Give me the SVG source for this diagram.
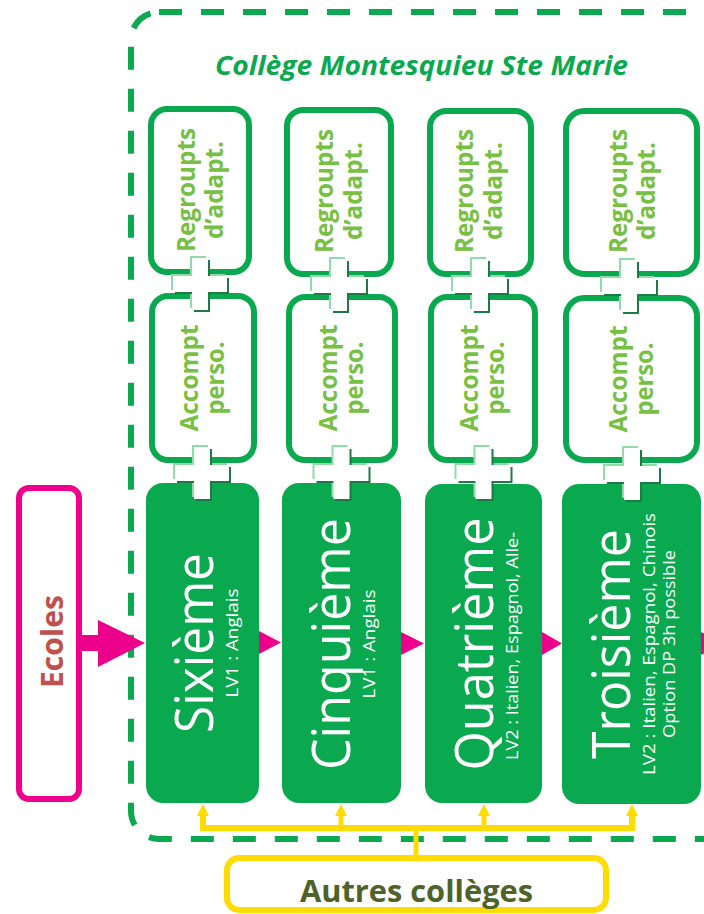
<svg xmlns="http://www.w3.org/2000/svg" xmlns:xlink="http://www.w3.org/1999/xlink" width="704" height="914" viewBox="0 0 704 914">
<style>
  .frame{fill:none;stroke:#0aa94f;stroke-width:6;stroke-dasharray:23 19}
  .title{font-family:"Open Sans","Liberation Sans",sans-serif;font-weight:700;font-style:italic;font-size:27px;fill:#0aa94f}
  .obox{fill:#fff;stroke:#0aa94f;stroke-width:6}
  .otxt{font-family:"Open Sans","Liberation Sans",sans-serif;font-weight:700;font-size:25px;fill:#78c043}
  .gbox{fill:#0aa94f}
  .big{font-family:"Open Sans","Liberation Sans",sans-serif;font-weight:400;font-size:53px;fill:#fff}
  .small{font-family:"Open Sans","Liberation Sans",sans-serif;font-weight:400;font-size:17px;fill:#fff}
  .ecbox{fill:#fff;stroke:#ec008c;stroke-width:6}
  .ectxt{font-family:"Open Sans","Liberation Sans",sans-serif;font-weight:700;font-size:31px;fill:#c0504d}
  .mag{fill:#ec008c}
  .ybox{fill:#fff;stroke:#ffdc00;stroke-width:6}
  .ytxt{font-family:"Open Sans","Liberation Sans",sans-serif;font-weight:700;font-size:30px;fill:#4f6228}
  .yl{fill:none;stroke:#ffdc00;stroke-width:6}
  .ys{fill:none;stroke:#ffdc00;stroke-width:5}
</style>
<defs>
  <path id="plus" d="M-8,-26 H8 V-8 H27 V8 H8 V26 H-8 V8 H-27 V-8 H-8 Z"/>
  <marker id="ya" viewBox="0 0 12 12" refX="0" refY="6" markerWidth="12" markerHeight="12" markerUnits="userSpaceOnUse" orient="auto-start-reverse">
    <path d="M0,0 L12,6 L0,12 Z" fill="#ffdc00"/>
  </marker>
</defs>

<g id="college-frame">
  <rect class="frame" x="131" y="12" width="599" height="827" rx="28"/>
  <text class="title" x="421.5" y="75" text-anchor="middle" textLength="413" lengthAdjust="spacingAndGlyphs">Collège Montesquieu Ste Marie</text>
</g>

<g id="ecoles">
  <rect class="ecbox" x="19" y="488" width="60" height="311" rx="10"/>
  <text class="ectxt" transform="translate(49,641.5) rotate(-90)" x="0" y="14" text-anchor="middle" textLength="93" lengthAdjust="spacingAndGlyphs">Ecoles</text>
</g>

<g id="regroupts-6">
  <rect class="obox" x="151" y="109" width="98" height="163" rx="16"/>
  <g transform="translate(200,190) rotate(-90)" text-anchor="middle">
    <text class="otxt" x="0" y="-5" textLength="124" lengthAdjust="spacingAndGlyphs">Regroupts</text>
    <text class="otxt" x="0" y="23" textLength="98" lengthAdjust="spacingAndGlyphs">d’adapt.</text>
  </g>
</g>
<g id="accompt-6">
  <rect class="obox" x="152" y="296" width="102" height="164" rx="16"/>
  <g transform="translate(203,378) rotate(-90)" text-anchor="middle">
    <text class="otxt" x="0" y="-5" textLength="107" lengthAdjust="spacingAndGlyphs">Accompt</text>
    <text class="otxt" x="0" y="21" textLength="73" lengthAdjust="spacingAndGlyphs">perso.</text>
  </g>
</g>
<g id="regroupts-5">
  <rect class="obox" x="287" y="110" width="104" height="164" rx="16"/>
  <g transform="translate(339,191) rotate(-90)" text-anchor="middle">
    <text class="otxt" x="0" y="-6" textLength="124" lengthAdjust="spacingAndGlyphs">Regroupts</text>
    <text class="otxt" x="0" y="23" textLength="98" lengthAdjust="spacingAndGlyphs">d’adapt.</text>
  </g>
</g>
<g id="accompt-5">
  <rect class="obox" x="289" y="297" width="106" height="163" rx="16"/>
  <g transform="translate(342,378) rotate(-90)" text-anchor="middle">
    <text class="otxt" x="0" y="-5" textLength="107" lengthAdjust="spacingAndGlyphs">Accompt</text>
    <text class="otxt" x="0" y="21" textLength="73" lengthAdjust="spacingAndGlyphs">perso.</text>
  </g>
</g>
<g id="regroupts-4">
  <rect class="obox" x="430" y="111" width="101" height="163" rx="16"/>
  <g transform="translate(480,191) rotate(-90)" text-anchor="middle">
    <text class="otxt" x="0" y="-7" textLength="124" lengthAdjust="spacingAndGlyphs">Regroupts</text>
    <text class="otxt" x="0" y="22" textLength="98" lengthAdjust="spacingAndGlyphs">d’adapt.</text>
  </g>
</g>
<g id="accompt-4">
  <rect class="obox" x="431" y="297" width="104" height="163" rx="16"/>
  <g transform="translate(483,378) rotate(-90)" text-anchor="middle">
    <text class="otxt" x="0" y="-5" textLength="107" lengthAdjust="spacingAndGlyphs">Accompt</text>
    <text class="otxt" x="0" y="21" textLength="73" lengthAdjust="spacingAndGlyphs">perso.</text>
  </g>
</g>
<g id="regroupts-3">
  <rect class="obox" x="566" y="111" width="131" height="163" rx="18"/>
  <g transform="translate(631,191) rotate(-90)" text-anchor="middle">
    <text class="otxt" x="0" y="-4" textLength="124" lengthAdjust="spacingAndGlyphs">Regroupts</text>
    <text class="otxt" x="0" y="24" textLength="98" lengthAdjust="spacingAndGlyphs">d’adapt.</text>
  </g>
</g>
<g id="accompt-3">
  <rect class="obox" x="566" y="298" width="131" height="162" rx="18"/>
  <g transform="translate(632,379) rotate(-90)" text-anchor="middle">
    <text class="otxt" x="0" y="-5" textLength="107" lengthAdjust="spacingAndGlyphs">Accompt</text>
    <text class="otxt" x="0" y="21" textLength="73" lengthAdjust="spacingAndGlyphs">perso.</text>
  </g>
</g>

<g id="sixieme">
  <rect class="gbox" x="146" y="483" width="113" height="320" rx="17"/>
  <g transform="translate(202.5,643) rotate(-90)" text-anchor="middle">
    <text class="big" x="0" y="10" textLength="180" lengthAdjust="spacingAndGlyphs">Sixième</text>
    <text class="small" x="0" y="35" textLength="109" lengthAdjust="spacingAndGlyphs">LV1 : Anglais</text>
  </g>
</g>
<g id="cinquieme">
  <rect class="gbox" x="282" y="483" width="119" height="320" rx="17"/>
  <g transform="translate(341.5,644) rotate(-90)" text-anchor="middle">
    <text class="big" x="0" y="8.5" textLength="252" lengthAdjust="spacingAndGlyphs">Cinquième</text>
    <text class="small" x="0" y="33" textLength="109" lengthAdjust="spacingAndGlyphs">LV1 : Anglais</text>
  </g>
</g>
<g id="quatrieme">
  <rect class="gbox" x="425" y="484" width="117" height="319" rx="17"/>
  <g transform="translate(483.5,644) rotate(-90)" text-anchor="middle">
    <text class="big" x="0" y="9.5" textLength="253" lengthAdjust="spacingAndGlyphs">Quatrième</text>
    <text class="small" x="-2" y="34.5" textLength="228" lengthAdjust="spacingAndGlyphs">LV2 : Italien, Espagnol, Alle-</text>
  </g>
</g>
<g id="troisieme">
  <rect class="gbox" x="562" y="484" width="139" height="320" rx="17"/>
  <g transform="translate(631.5,644) rotate(-90)" text-anchor="middle">
    <text class="big" x="0" y="-1.5" textLength="230" lengthAdjust="spacingAndGlyphs">Troisième</text>
    <text class="small" x="0" y="23.5" textLength="262" lengthAdjust="spacingAndGlyphs">LV2 : Italien, Espagnol, Chinois</text>
    <text class="small" x="0" y="43.5" textLength="188" lengthAdjust="spacingAndGlyphs">Option DP 3h possible</text>
  </g>
</g>

<g id="autres-colleges">
  <rect class="ybox" x="227" y="858" width="379" height="52" rx="12"/>
  <text class="ytxt" x="416.5" y="902" text-anchor="middle" textLength="233" lengthAdjust="spacingAndGlyphs">Autres collèges</text>
</g>

<g id="plus-signs">
  <g transform="translate(200,284)"><use xlink:href="#plus" fill="#8fdcaa" transform="translate(-2,-2)"/><use xlink:href="#plus" fill="#1e7a45" transform="translate(2,2)"/><use xlink:href="#plus" fill="#fff"/></g>
  <g transform="translate(202,473)"><use xlink:href="#plus" fill="#8fdcaa" transform="translate(-2,-2)"/><use xlink:href="#plus" fill="#1e7a45" transform="translate(2,2)"/><use xlink:href="#plus" fill="#fff"/></g>
  <g transform="translate(339,285)"><use xlink:href="#plus" fill="#8fdcaa" transform="translate(-2,-2)"/><use xlink:href="#plus" fill="#1e7a45" transform="translate(2,2)"/><use xlink:href="#plus" fill="#fff"/></g>
  <g transform="translate(341.5,473)"><use xlink:href="#plus" fill="#8fdcaa" transform="translate(-2,-2)"/><use xlink:href="#plus" fill="#1e7a45" transform="translate(2,2)"/><use xlink:href="#plus" fill="#fff"/></g>
  <g transform="translate(480,285)"><use xlink:href="#plus" fill="#8fdcaa" transform="translate(-2,-2)"/><use xlink:href="#plus" fill="#1e7a45" transform="translate(2,2)"/><use xlink:href="#plus" fill="#fff"/></g>
  <g transform="translate(483.5,473)"><use xlink:href="#plus" fill="#8fdcaa" transform="translate(-2,-2)"/><use xlink:href="#plus" fill="#1e7a45" transform="translate(2,2)"/><use xlink:href="#plus" fill="#fff"/></g>
  <g transform="translate(629,286)"><use xlink:href="#plus" fill="#8fdcaa" transform="translate(-2,-2)"/><use xlink:href="#plus" fill="#1e7a45" transform="translate(2,2)"/><use xlink:href="#plus" fill="#fff"/></g>
  <g transform="translate(632,474)"><use xlink:href="#plus" fill="#8fdcaa" transform="translate(-2,-2)"/><use xlink:href="#plus" fill="#1e7a45" transform="translate(2,2)"/><use xlink:href="#plus" fill="#fff"/></g>
</g>

<g id="connectors">
  <polygon class="mag" points="82,635 98,635 98,620 145,643 98,667 98,651 82,651"/>
  <polygon class="mag" points="259,631 281,642.5 259,654"/>
  <polygon class="mag" points="401,632 424,643.5 401,655"/>
  <polygon class="mag" points="542,632 562,643.5 542,655"/>
  <polygon class="mag" points="701,632 724,643.5 701,655"/>
  <path class="yl" d="M203,816 V828 H632 V816" marker-start="url(#ya)" marker-end="url(#ya)"/>
  <path class="ys" d="M341,828 V816" marker-end="url(#ya)"/>
  <path class="ys" d="M484,828 V816" marker-end="url(#ya)"/>
  <path class="ys" d="M416,828 V858"/>
</g>
</svg>
